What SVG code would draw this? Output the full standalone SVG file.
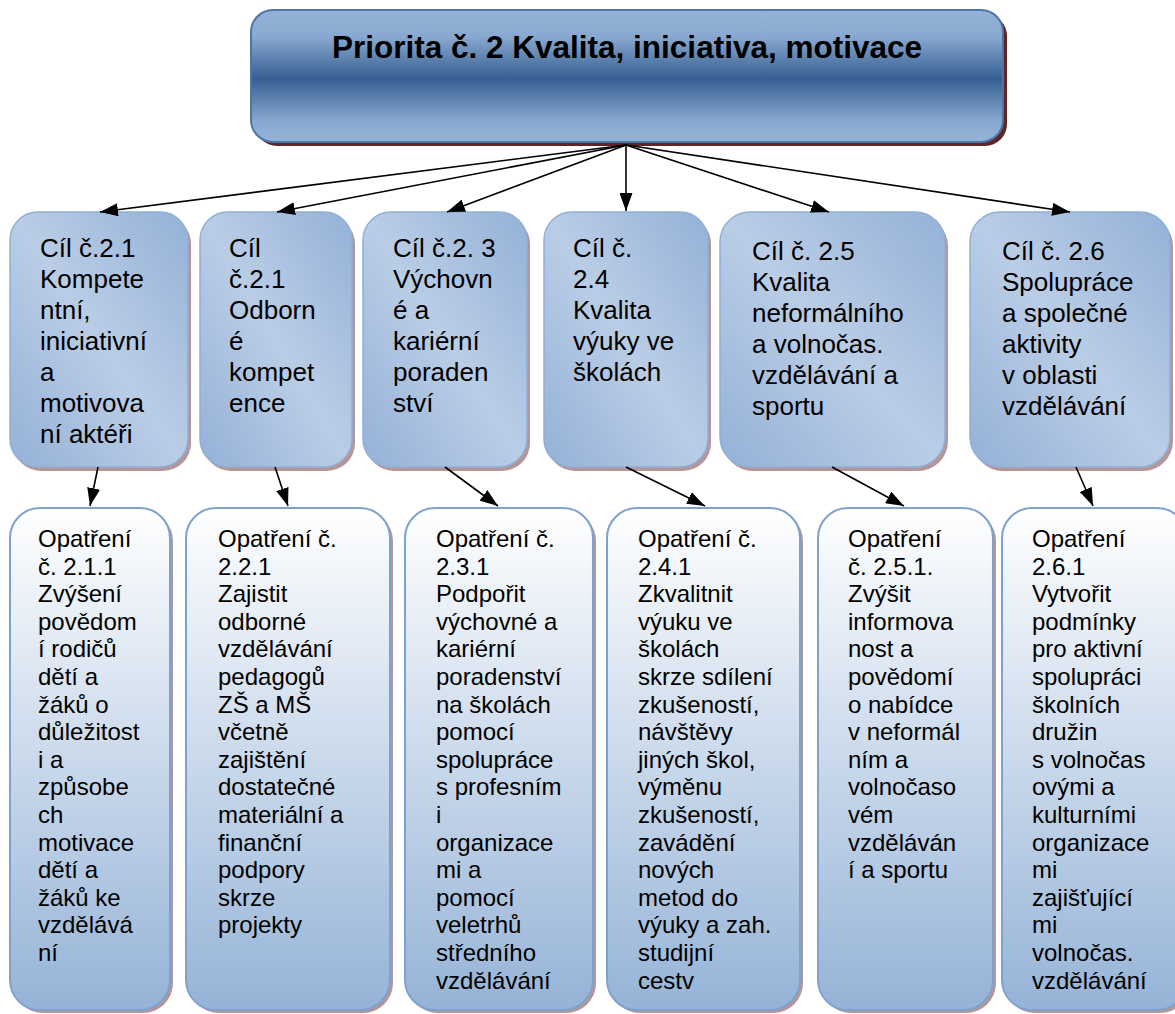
<svg xmlns="http://www.w3.org/2000/svg" width="1175" height="1014" viewBox="0 0 1175 1014">
<defs>
<linearGradient id="gTop" x1="0" y1="0" x2="0" y2="1">
<stop offset="0" stop-color="#95b3d7"/>
<stop offset="0.2" stop-color="#8aa9d0"/>
<stop offset="0.52" stop-color="#365f91"/>
<stop offset="0.85" stop-color="#8aa9d0"/>
<stop offset="1" stop-color="#95b3d7"/>
</linearGradient>
<linearGradient id="gMid" x1="1" y1="0" x2="0" y2="1">
<stop offset="0" stop-color="#94b1d7"/>
<stop offset="0.5" stop-color="#bacde6"/>
<stop offset="1" stop-color="#94b1d7"/>
</linearGradient>
<linearGradient id="gBot" x1="0" y1="0" x2="0" y2="1">
<stop offset="0" stop-color="#ffffff"/>
<stop offset="1" stop-color="#95b3d7"/>
</linearGradient>
<marker id="arr" viewBox="0 0 18 13" refX="18" refY="6.5" markerWidth="18" markerHeight="13" markerUnits="userSpaceOnUse" orient="auto">
<path d="M0,0 L18,6.5 L0,13 z" fill="#000"/>
</marker>
</defs>
<style>
.shTop{fill:#632523}
.sh{fill:#b59595}
.top{fill:url(#gTop);stroke:#4a76aa;stroke-width:2}
.mid{fill:url(#gMid);stroke:#8fb0d8;stroke-width:1.5}
.bot{fill:url(#gBot);stroke:#7ea2cf;stroke-width:2}
.title{font-family:"Liberation Sans",Arial,sans-serif;font-weight:bold;font-size:31.5px;fill:#000}
.tm{font-family:"Liberation Sans",Arial,sans-serif;font-size:26px;fill:#000}
.tb{font-family:"Liberation Sans",Arial,sans-serif;font-size:24px;fill:#000}
.con{stroke:#000;stroke-width:1.6;fill:none;marker-end:url(#arr)}
</style>

<g id="priority">
<rect class="shTop" x="255" y="14" width="752" height="132" rx="22"/>
<rect class="top" x="251" y="10" width="752" height="132" rx="22"/>
<text class="title" x="627" y="58" text-anchor="middle">Priorita č. 2 Kvalita, iniciativa, motivace</text>
</g>

<g id="cil1">
<rect class="sh" x="13" y="216" width="178" height="255" rx="28"/>
<rect class="mid" x="10" y="212" width="178" height="255" rx="28"/>
<text class="tm"><tspan x="40" y="257">Cíl č.2.1</tspan><tspan x="40" y="288">Kompete</tspan><tspan x="40" y="319">ntní,</tspan><tspan x="40" y="350">iniciativní</tspan><tspan x="40" y="381">a</tspan><tspan x="40" y="412">motivova</tspan><tspan x="40" y="443">ní aktéři</tspan></text>
</g>
<g id="cil2">
<rect class="sh" x="203" y="216" width="152" height="255" rx="28"/>
<rect class="mid" x="200" y="212" width="152" height="255" rx="28"/>
<text class="tm"><tspan x="229" y="257">Cíl</tspan><tspan x="229" y="288">č.2.1</tspan><tspan x="229" y="319">Odborn</tspan><tspan x="229" y="350">é</tspan><tspan x="229" y="381">kompet</tspan><tspan x="229" y="412">ence</tspan></text>
</g>
<g id="cil3">
<rect class="sh" x="366" y="216" width="164" height="255" rx="28"/>
<rect class="mid" x="363" y="212" width="164" height="255" rx="28"/>
<text class="tm"><tspan x="393" y="257">Cíl č.2. 3</tspan><tspan x="393" y="288">Výchovn</tspan><tspan x="393" y="319">é a</tspan><tspan x="393" y="350">kariérní</tspan><tspan x="393" y="381">poraden</tspan><tspan x="393" y="412">ství</tspan></text>
</g>
<g id="cil4">
<rect class="sh" x="547" y="216" width="164" height="255" rx="28"/>
<rect class="mid" x="544" y="212" width="164" height="255" rx="28"/>
<text class="tm"><tspan x="573" y="257">Cíl č.</tspan><tspan x="573" y="288">2.4</tspan><tspan x="573" y="319">Kvalita</tspan><tspan x="573" y="350">výuky ve</tspan><tspan x="573" y="381">školách</tspan></text>
</g>
<g id="cil5">
<rect class="sh" x="723" y="216" width="225" height="255" rx="30"/>
<rect class="mid" x="720" y="212" width="225" height="255" rx="30"/>
<text class="tm"><tspan x="752" y="260">Cíl č. 2.5</tspan><tspan x="752" y="291">Kvalita</tspan><tspan x="752" y="322">neformálního</tspan><tspan x="752" y="353">a volnočas.</tspan><tspan x="752" y="384">vzdělávání a</tspan><tspan x="752" y="415">sportu</tspan></text>
</g>
<g id="cil6">
<rect class="sh" x="973" y="216" width="200" height="255" rx="30"/>
<rect class="mid" x="970" y="212" width="200" height="255" rx="30"/>
<text class="tm"><tspan x="1002" y="260">Cíl č. 2.6</tspan><tspan x="1002" y="291">Spolupráce</tspan><tspan x="1002" y="322">a společné</tspan><tspan x="1002" y="353">aktivity</tspan><tspan x="1002" y="384">v oblasti</tspan><tspan x="1002" y="415">vzdělávání</tspan></text>
</g>

<g id="opatreni1">
<rect class="sh" x="13" y="511" width="160" height="502" rx="30"/>
<rect class="bot" x="10" y="508" width="160" height="502" rx="30"/>
<text class="tb"><tspan x="38" y="547">Opatření</tspan><tspan x="38" y="574.6">č. 2.1.1</tspan><tspan x="38" y="602.2">Zvýšení</tspan><tspan x="38" y="629.8">povědom</tspan><tspan x="38" y="657.4">í rodičů</tspan><tspan x="38" y="685">dětí a</tspan><tspan x="38" y="712.6">žáků o</tspan><tspan x="38" y="740.2">důležitost</tspan><tspan x="38" y="767.8">i a</tspan><tspan x="38" y="795.4">způsobe</tspan><tspan x="38" y="823">ch</tspan><tspan x="38" y="850.6">motivace</tspan><tspan x="38" y="878.2">dětí a</tspan><tspan x="38" y="905.8">žáků ke</tspan><tspan x="38" y="933.4">vzdělává</tspan><tspan x="38" y="961">ní</tspan></text>
</g>
<g id="opatreni2">
<rect class="sh" x="189" y="511" width="204" height="502" rx="30"/>
<rect class="bot" x="186" y="508" width="204" height="502" rx="30"/>
<text class="tb"><tspan x="218" y="547">Opatření č.</tspan><tspan x="218" y="574.6">2.2.1</tspan><tspan x="218" y="602.2">Zajistit</tspan><tspan x="218" y="629.8">odborné</tspan><tspan x="218" y="657.4">vzdělávání</tspan><tspan x="218" y="685">pedagogů</tspan><tspan x="218" y="712.6">ZŠ a MŠ</tspan><tspan x="218" y="740.2">včetně</tspan><tspan x="218" y="767.8">zajištění</tspan><tspan x="218" y="795.4">dostatečné</tspan><tspan x="218" y="823">materiální a</tspan><tspan x="218" y="850.6">finanční</tspan><tspan x="218" y="878.2">podpory</tspan><tspan x="218" y="905.8">skrze</tspan><tspan x="218" y="933.4">projekty</tspan></text>
</g>
<g id="opatreni3">
<rect class="sh" x="408" y="511" width="188" height="502" rx="30"/>
<rect class="bot" x="405" y="508" width="188" height="502" rx="30"/>
<text class="tb"><tspan x="436" y="547">Opatření č.</tspan><tspan x="436" y="574.6">2.3.1</tspan><tspan x="436" y="602.2">Podpořit</tspan><tspan x="436" y="629.8">výchovné a</tspan><tspan x="436" y="657.4">kariérní</tspan><tspan x="436" y="685">poradenství</tspan><tspan x="436" y="712.6">na školách</tspan><tspan x="436" y="740.2">pomocí</tspan><tspan x="436" y="767.8">spolupráce</tspan><tspan x="436" y="795.4">s profesním</tspan><tspan x="436" y="823">i</tspan><tspan x="436" y="850.6">organizace</tspan><tspan x="436" y="878.2">mi a</tspan><tspan x="436" y="905.8">pomocí</tspan><tspan x="436" y="933.4">veletrhů</tspan><tspan x="436" y="961">středního</tspan><tspan x="436" y="988.6">vzdělávání</tspan></text>
</g>
<g id="opatreni4">
<rect class="sh" x="610" y="511" width="193" height="502" rx="30"/>
<rect class="bot" x="607" y="508" width="193" height="502" rx="30"/>
<text class="tb"><tspan x="638" y="547">Opatření č.</tspan><tspan x="638" y="574.6">2.4.1</tspan><tspan x="638" y="602.2">Zkvalitnit</tspan><tspan x="638" y="629.8">výuku ve</tspan><tspan x="638" y="657.4">školách</tspan><tspan x="638" y="685">skrze sdílení</tspan><tspan x="638" y="712.6">zkušeností,</tspan><tspan x="638" y="740.2">návštěvy</tspan><tspan x="638" y="767.8">jiných škol,</tspan><tspan x="638" y="795.4">výměnu</tspan><tspan x="638" y="823">zkušeností,</tspan><tspan x="638" y="850.6">zavádění</tspan><tspan x="638" y="878.2">nových</tspan><tspan x="638" y="905.8">metod do</tspan><tspan x="638" y="933.4">výuky a zah.</tspan><tspan x="638" y="961">studijní</tspan><tspan x="638" y="988.6">cestv</tspan></text>
</g>
<g id="opatreni5">
<rect class="sh" x="821" y="511" width="175" height="502" rx="30"/>
<rect class="bot" x="818" y="508" width="175" height="502" rx="30"/>
<text class="tb"><tspan x="848" y="547">Opatření</tspan><tspan x="848" y="574.6">č. 2.5.1.</tspan><tspan x="848" y="602.2">Zvýšit</tspan><tspan x="848" y="629.8">informova</tspan><tspan x="848" y="657.4">nost a</tspan><tspan x="848" y="685">povědomí</tspan><tspan x="848" y="712.6">o nabídce</tspan><tspan x="848" y="740.2">v neformál</tspan><tspan x="848" y="767.8">ním a</tspan><tspan x="848" y="795.4">volnočaso</tspan><tspan x="848" y="823">vém</tspan><tspan x="848" y="850.6">vzděláván</tspan><tspan x="848" y="878.2">í a sportu</tspan></text>
</g>
<g id="opatreni6">
<rect class="sh" x="1005" y="511" width="185" height="502" rx="30"/>
<rect class="bot" x="1002" y="508" width="185" height="502" rx="30"/>
<text class="tb"><tspan x="1032" y="547">Opatření</tspan><tspan x="1032" y="574.6">2.6.1</tspan><tspan x="1032" y="602.2">Vytvořit</tspan><tspan x="1032" y="629.8">podmínky</tspan><tspan x="1032" y="657.4">pro aktivní</tspan><tspan x="1032" y="685">spolupráci</tspan><tspan x="1032" y="712.6">školních</tspan><tspan x="1032" y="740.2">družin</tspan><tspan x="1032" y="767.8">s volnočas</tspan><tspan x="1032" y="795.4">ovými a</tspan><tspan x="1032" y="823">kulturními</tspan><tspan x="1032" y="850.6">organizace</tspan><tspan x="1032" y="878.2">mi</tspan><tspan x="1032" y="905.8">zajišťující</tspan><tspan x="1032" y="933.4">mi</tspan><tspan x="1032" y="961">volnočas.</tspan><tspan x="1032" y="988.6">vzdělávání</tspan></text>
</g>

<g id="connectors">
<line class="con" x1="626" y1="145" x2="100" y2="212"/>
<line class="con" x1="626" y1="145" x2="277" y2="212"/>
<line class="con" x1="626" y1="145" x2="447" y2="212"/>
<line class="con" x1="626" y1="145" x2="626" y2="211"/>
<line class="con" x1="626" y1="145" x2="829" y2="212"/>
<line class="con" x1="626" y1="145" x2="1070" y2="212"/>
<line class="con" x1="98" y1="467" x2="90" y2="506"/>
<line class="con" x1="275" y1="467" x2="288" y2="506"/>
<line class="con" x1="445" y1="467" x2="498" y2="506"/>
<line class="con" x1="626" y1="467" x2="705" y2="506"/>
<line class="con" x1="832" y1="467" x2="904" y2="506"/>
<line class="con" x1="1076" y1="467" x2="1093" y2="506"/>
</g>
</svg>
